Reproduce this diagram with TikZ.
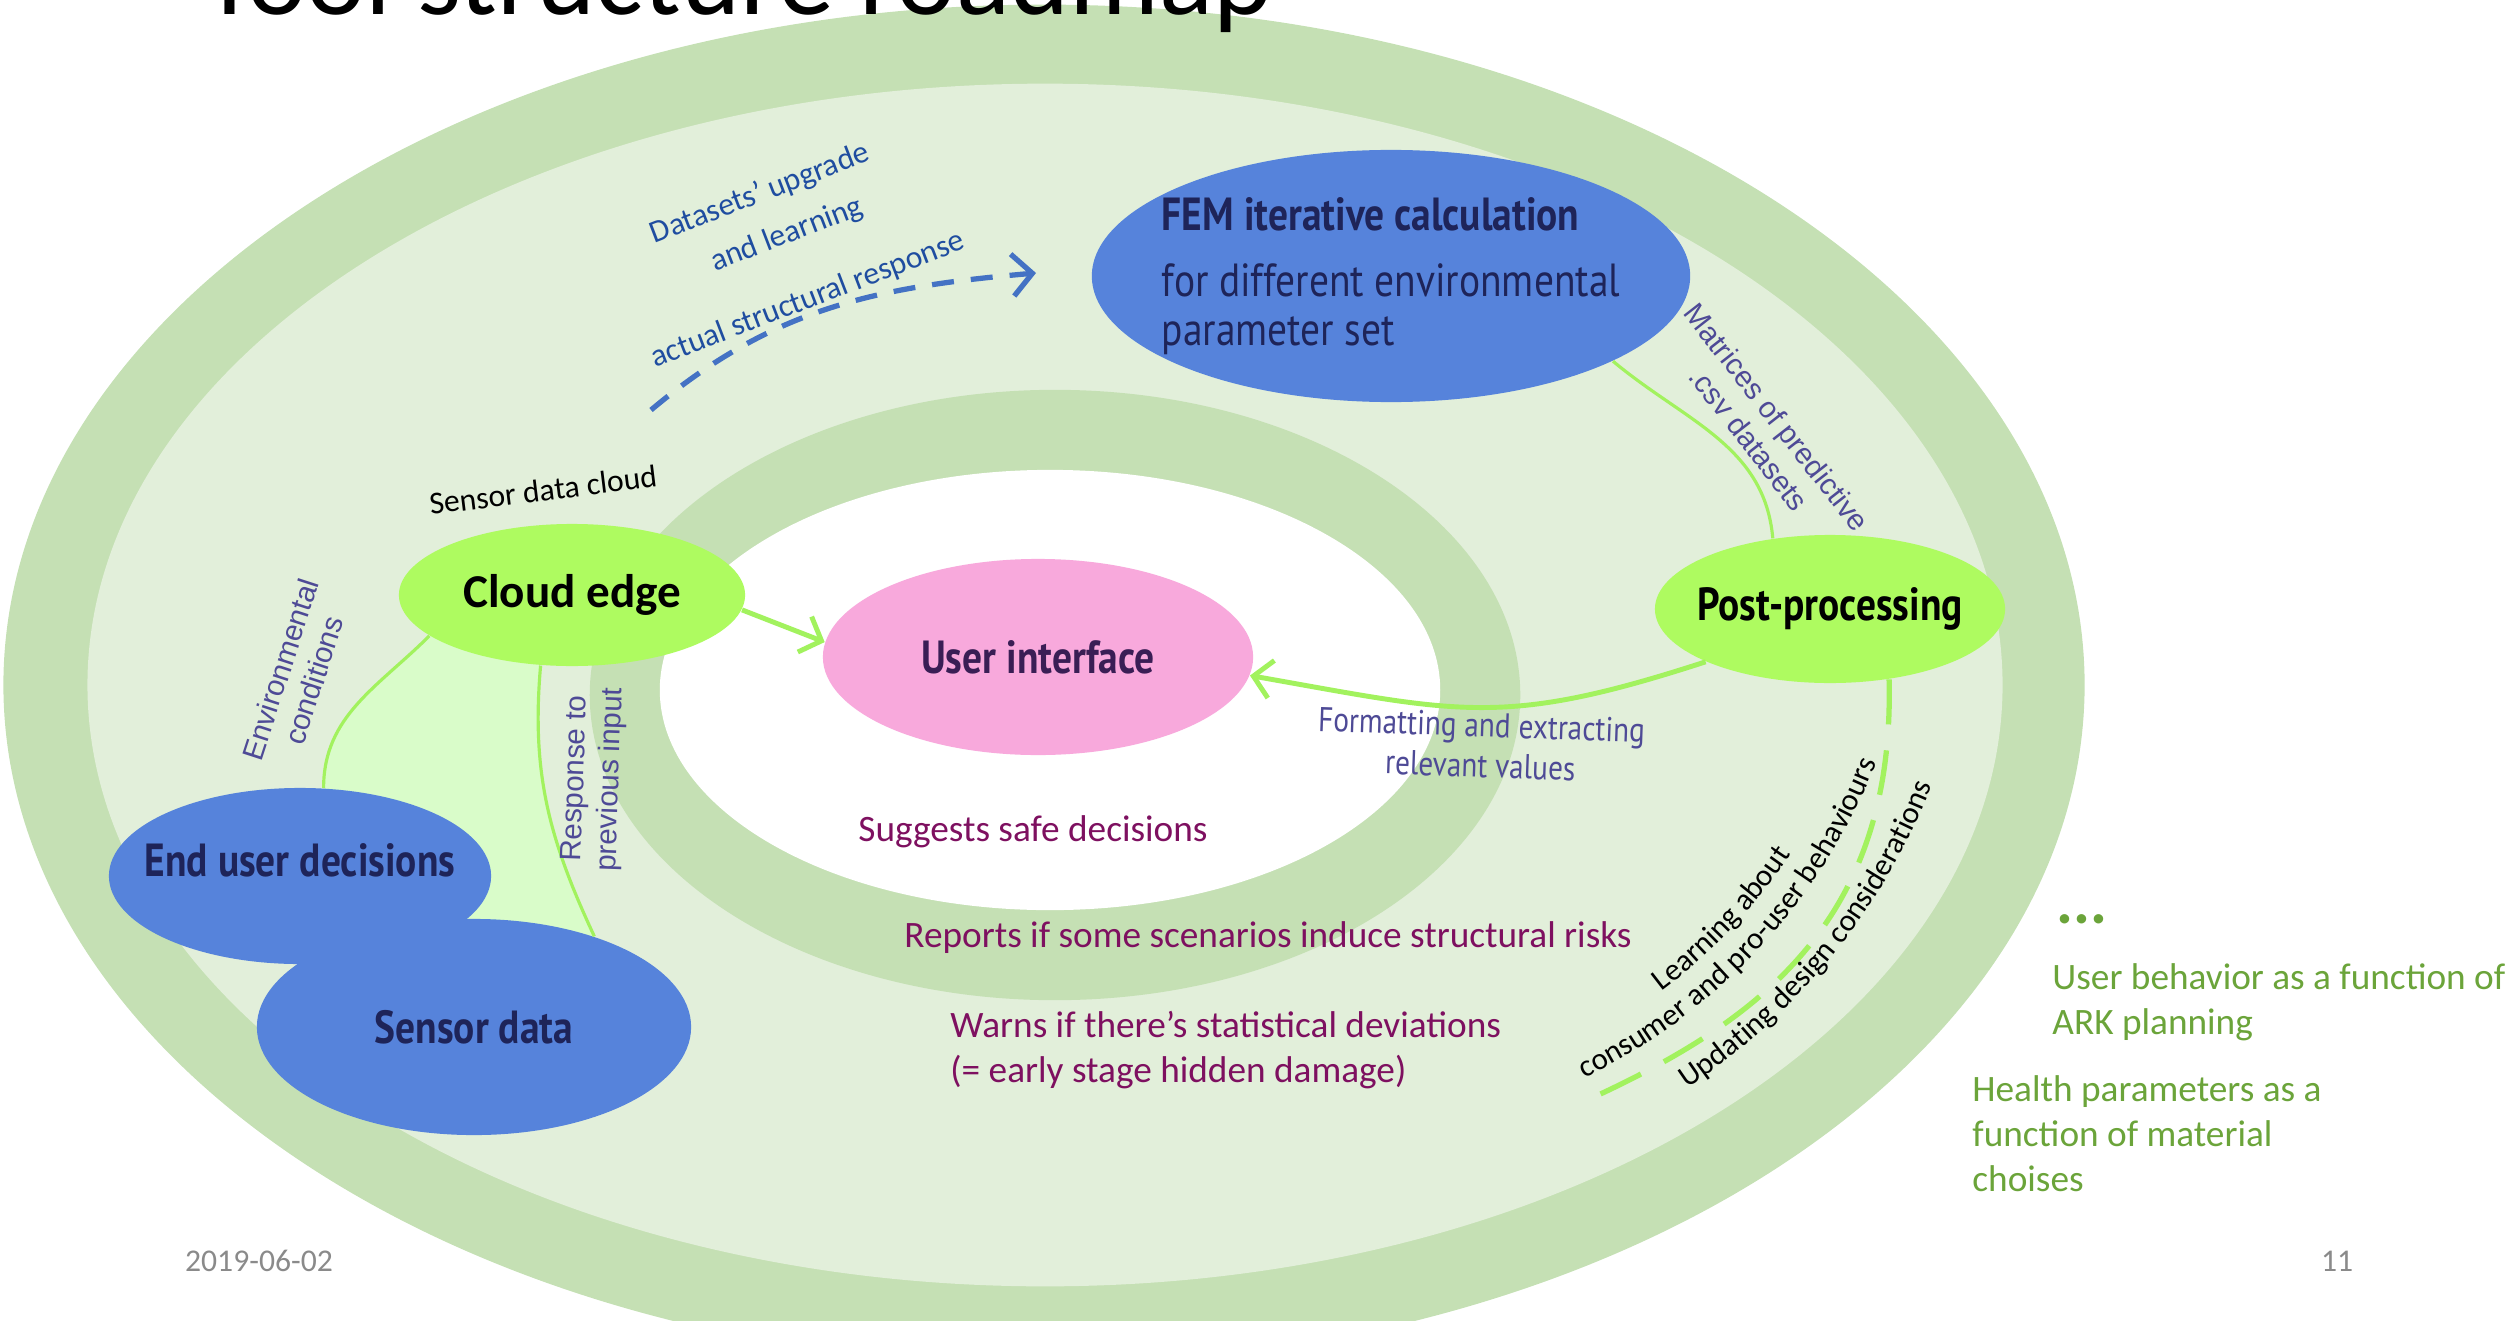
\documentclass[tikz,border=0pt]{standalone}
\usepackage{fontspec}
\setmainfont{Carlito}
\newfontfamily\dinfont[FakeStretch=0.85]{PT Sans}
\newfontfamily\labfont{Liberation Sans}
\usetikzlibrary{shapes.geometric,arrows.meta,decorations.text}

\definecolor{bandgreen}{HTML}{C5E0B4}
\definecolor{palegreen}{HTML}{E2EFDA}
\definecolor{softgreen}{HTML}{D9FCC9}
\definecolor{nodeblue}{HTML}{5683DB}
\definecolor{nodelime}{HTML}{AEFB60}
\definecolor{limeline}{HTML}{A2F25E}
\definecolor{pinkui}{HTML}{F8A9DC}
\definecolor{navytext}{HTML}{1E2459}
\definecolor{uitext}{HTML}{3A1E55}
\definecolor{labelpurple}{HTML}{4E4A96}
\definecolor{dsblue}{HTML}{4472C4}
\definecolor{dstext}{HTML}{1F4DA0}
\definecolor{notemagenta}{HTML}{7E1060}
\definecolor{notegreen}{HTML}{6BA43A}
\definecolor{footgrey}{HTML}{8A8A8A}

\pgfdeclarelayer{back}
\pgfsetlayers{back,main}

\tikzset{
  blob/.style={ellipse, inner sep=0pt},
  blueblob/.style={blob, fill=nodeblue, text=navytext, font=\dinfont\bfseries\fontsize{13.2}{15}\selectfont},
  limeblob/.style={blob, fill=nodelime, font=\dinfont\bfseries\fontsize{13.2}{15}\selectfont},
  flow/.style={draw=limeline, line width=1.4pt, -{Straight Barb[length=1.8mm,width=3.8mm]}},
  link/.style={draw=limeline, line width=0.9pt},
  pathlabel/.style={text=labelpurple, font=\labfont\fontsize{8.4}{10}\selectfont, align=center},
  arclabel/.style={decorate, decoration={text along path, text align=center, text={|\fontsize{8.8}{10.6}\selectfont|#1}}},
  note/.style={text=notemagenta, font=\fontsize{10.6}{12.8}\selectfont},
  sidenote/.style={text=notegreen, font=\fontsize{10.6}{12.8}\selectfont, align=left, anchor=west},
  footer/.style={text=footgrey, font=\fontsize{9}{11}\selectfont},
}

\begin{document}
\begin{tikzpicture}[x=0.01cm,y=0.01cm]
		%%%%% START %%%%%
		\useasboundingbox (0,0) rectangle (2519,1320);
		\clip (0,0) rectangle (2519,1320);
		
		\node[anchor=base west, font=\fontsize{32}{36}\selectfont] (title) at (190,1305) {Tool structure roadmap};
		
		% main blobs
		\node[limeblob, minimum width=3.46cm, minimum height=1.42cm, font=\bfseries\fontsize{13.4}{15}\selectfont] (cloud) at (572,725) {Cloud edge};
		\node[blueblob, minimum width=5.98cm, minimum height=2.52cm, inner xsep=-0.35cm, align=left, font=\dinfont\fontsize{13.2}{13.8}\selectfont] (fem) at (1391,1044) {\textbf{FEM iterative calculation}\\[0.18cm]for different environmental\\parameter set};
		\node[limeblob, minimum width=3.5cm, minimum height=1.48cm, inner xsep=-0.25cm, text=black] (post) at (1830,711) {Post-processing};
		\node[blob, fill=pinkui, text=uitext, minimum width=4.3cm, minimum height=1.96cm, font=\dinfont\bfseries\fontsize{13.2}{15}\selectfont] (ui) at (1038,663) {User interface};
		\node[blueblob, minimum width=3.82cm, minimum height=1.76cm, inner xsep=-0.45cm, text height=0.3cm, text depth=0.3cm] (enduser) at (300,444) {End user decisions};
		\node[blueblob, minimum width=4.34cm, minimum height=2.16cm] (sensor) at (474,293) {Sensor data};
		
		\begin{pgfonlayer}{back}
		\fill[bandgreen] (1044,635) ellipse [x radius=10.4cm, y radius=6.8cm];
		\fill[palegreen] (1045,635) ellipse [x radius=9.57cm, y radius=6.01cm];
		\fill[bandgreen] (1055,625) ellipse [x radius=4.65cm, y radius=3.05cm];
		\fill[white] (1050,630) ellipse [x radius=3.9cm, y radius=2.2cm];
		\fill[softgreen] (cloud.196) to[out=225,in=90] (enduser.75) -- (enduser.center) -- (sensor.center) -- (sensor.37) to[out=115,in=265] (cloud.246) -- cycle;
		\end{pgfonlayer}
		
		% links
		\draw[flow] (cloud.-5) -- (ui.176);
		\draw[flow] (post.203) to[out=198,in=-10,looseness=1.2] (ui.-5);
		\draw[link] (fem.-21) to[out=-40,in=95] (post.129);
		\draw[link] (cloud.196) to[out=225,in=90] (enduser.75);
		\draw[link] (cloud.246) to[out=265,in=115] (sensor.37);
		
		\coordinate (dsstart) at (651,910);
		\coordinate (dsend) at (1036,1047);
		\draw[dsblue, line width=1.5pt, dash pattern=on 0.22cm off 0.17cm, -{Straight Barb[length=2mm,width=4.2mm]}] (dsstart) to[out=40,in=185] (dsend);
		
		\coordinate (learnend) at (1594,223);
		\draw[limeline, line width=1.5pt, dash pattern=on 0.45cm off 0.26cm] (post.-50) .. controls (1895,400) and (1760,300) .. (learnend);
		
		% labels on the links
		\node[text=dstext, rotate=21, font=\fontsize{9}{11}\selectfont] (ds1) at (760,1126) {Datasets’ upgrade};
		\node[text=dstext, rotate=21, font=\fontsize{9}{11}\selectfont] (ds2) at (787,1085) {and learning};
		\node[text=dstext, rotate=21, font=\fontsize{9}{11}\selectfont] (ds3) at (808,1020) {actual structural response};
		\node[rotate=7, font=\fontsize{9}{11}\selectfont] (cloudlbl) at (543,830) {Sensor data cloud};
		\node[pathlabel, rotate=72] (envlbl) at (297,645) {Environmental\\conditions};
		\node[pathlabel, rotate=88] (resplbl) at (594,541) {Response to\\previous input};
		\node[pathlabel, rotate=-52] (matlbl) at (1763,892) {Matrices of predictive\\.csv datasets};
		\node[text=labelpurple, rotate=-2, align=center, font=\dinfont\fontsize{9.8}{11.5}\selectfont] (fmtlbl) at (1481,575) {Formatting and extracting\\relevant values};
		
		% curved labels round the dashed line
		\coordinate (arcmid) at (1327,773);
		\path[arclabel={Learning about}] (arcmid) ++(-60:5.56cm) arc[start angle=-60, end angle=-26.5, radius=5.56cm];
		\path[arclabel={consumer and pro-user behaviours}] (arcmid) ++(-70:5.9cm) arc[start angle=-70, end angle=-15.6, radius=5.9cm];
		\path[arclabel={Updating design considerations}] (arcmid) ++(-62:6.5cm) arc[start angle=-62, end angle=-15.9, radius=6.5cm];
		
		% notes
		\node[note] (safe) at (1033,488) {Suggests safe decisions};
		\node[note] (risks) at (1268,382) {Reports if some scenarios induce structural risks};
		\node[note, align=left, anchor=west] (warns) at (938,270) {Warns if there’s statistical deviations\\(= early stage hidden damage)};
		
		\node[sidenote, anchor=base west, font=\bfseries\fontsize{18}{18}\selectfont] (dots) at (2044,397) {...};
		\node[sidenote] (userbeh) at (2040,318) {User behavior as a function of\\ARK planning};
		\node[sidenote] (health) at (1960,186) {Health parameters as a\\function of material\\choises};
		
		\node[footer] (date) at (259,59) {2019-06-02};
		\node[footer] (page) at (2337,59) {11};
		%%%%% END %%%%%
\end{tikzpicture}
\end{document}
